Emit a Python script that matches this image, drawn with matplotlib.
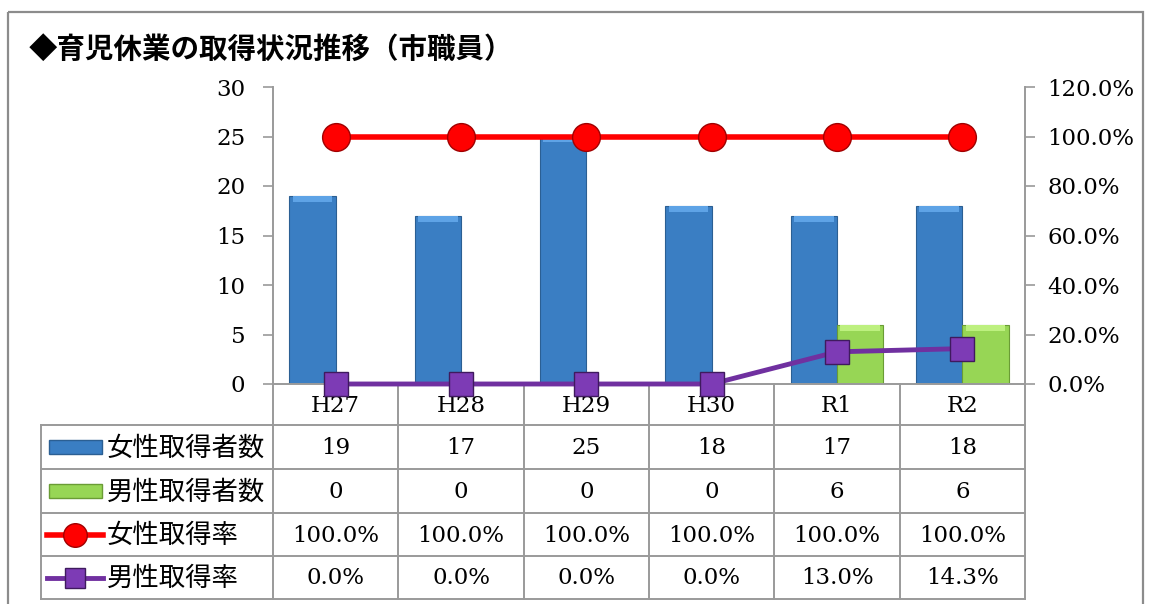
import matplotlib.pyplot as plt
from matplotlib.transforms import blended_transform_factory
from matplotlib.patches import Rectangle
from matplotlib.lines import Line2D

categories = ['H27', 'H28', 'H29', 'H30', 'R1', 'R2']
female_count = [19, 17, 25, 18, 17, 18]
male_count = [0, 0, 0, 0, 6, 6]
female_rate = [1.0, 1.0, 1.0, 1.0, 1.0, 1.0]
male_rate = [0.0, 0.0, 0.0, 0.0, 0.130, 0.143]
series_names = ['女性取得者数', '男性取得者数', '女性取得率', '男性取得率']
left_ticks = [0, 5, 10, 15, 20, 25, 30]
right_ticks = [0.0, 0.2, 0.4, 0.6, 0.8, 1.0, 1.2]
title = '◆育児休業の取得状況推移（市職員）'

W, H = 1149, 604
JP = ['Noto Sans CJK JP', 'DejaVu Sans']
NUM = 'DejaVu Serif'
NUM_SIZE = 16.5
GRID = '#9a9a9a'
BLUE, BLUE_EDGE, BLUE_TOP = '#3a7ec3', '#2b5f93', '#5ea3e6'
GREEN, GREEN_EDGE, GREEN_TOP = '#97d655', '#6a9c35', '#bdf07f'
RED, RED_EDGE = '#ff0000', '#a00000'
PURPLE, PURPLE_EDGE = '#7030a0', '#3f1a5e'

fig = plt.figure(figsize=(W / 100, H / 100), dpi=100)
bg = fig.add_axes([0, 0, 1, 1], zorder=0)
bg.set_xlim(0, W)
bg.set_ylim(H, 0)
bg.axis('off')


def box(l, t, r, b):
    return [l / W, 1 - b / H, (r - l) / W, (b - t) / H]


# outer frame
bg.add_patch(Rectangle((8, 12), 1135, 620, fill=False, ec='#8c8c8c', lw=1.6))
bg.text(29, 50, title, fontsize=20.5, fontweight='bold', family=JP, va='center', ha='left')

ax = fig.add_axes(box(273, 87, 1025, 384), zorder=1)
ax.patch.set_alpha(0)
x = list(range(len(categories)))
bw = 0.37
xf = [i - bw / 2 for i in x]
xm = [i + bw / 2 for i in x]
ax.bar(xf, female_count, width=bw, color=BLUE, edgecolor=BLUE_EDGE, lw=0.8, zorder=2)
ax.bar(xm, male_count, width=bw, color=GREEN, edgecolor=GREEN_EDGE, lw=0.8, zorder=2)
# light bevel on top of each bar
cap = 0.6
ax.bar(xf, [cap if v else 0 for v in female_count], bottom=[v - cap for v in female_count],
       width=bw * 0.86, color=BLUE_TOP, lw=0, zorder=3)
ax.bar(xm, [cap if v else 0 for v in male_count], bottom=[v - cap for v in male_count],
       width=bw * 0.86, color=GREEN_TOP, lw=0, zorder=3)
ax.set_xlim(-0.5, len(categories) - 0.5)
ax.set_ylim(0, 30)
ax.set_yticks(left_ticks)
ax.set_yticklabels([str(t) for t in left_ticks], family=NUM, fontsize=NUM_SIZE)
ax.tick_params(axis='y', direction='out', length=7, width=1.2, color=GRID, pad=13)
ax.tick_params(axis='x', bottom=False, labelbottom=False)
for s in ['top', 'right']:
    ax.spines[s].set_visible(False)
for s in ['left', 'bottom']:
    ax.spines[s].set_color(GRID)
    ax.spines[s].set_linewidth(1.4)

ax2 = ax.twinx()
ax2.set_zorder(2)
ax2.patch.set_alpha(0)
ax2.plot(x, female_rate, color=RED, lw=4, marker='o', ms=20, mfc=RED, mec=RED_EDGE, mew=1, clip_on=False)
ax2.plot(x, male_rate, color=PURPLE, lw=3.5, marker='s', ms=17, mfc='#7d3bb5', mec=PURPLE_EDGE, mew=1, clip_on=False)
ax2.set_ylim(0, 1.2)
ax2.set_yticks(right_ticks)
ax2.set_yticklabels([f'{t * 100:.1f}%' for t in right_ticks], family=NUM, fontsize=NUM_SIZE)
ax2.tick_params(axis='y', direction='out', length=7, width=1.2, color=GRID, pad=9)
for s in ['top', 'left', 'bottom']:
    ax2.spines[s].set_visible(False)
ax2.spines['right'].set_color(GRID)
ax2.spines['right'].set_linewidth(1.4)

# data table below the plot
bt = blended_transform_factory(ax.transData, bg.transData)
rows = [384, 425, 469, 513, 556, 599]
for i in range(len(categories) + 1):
    bg.add_line(Line2D([i - 0.5, i - 0.5], [rows[0], rows[-1]], transform=bt, color=GRID, lw=1.4))
bg.add_line(Line2D([41, 41], [rows[1], rows[-1]], color=GRID, lw=1.4))
for yy in rows[1:]:
    bg.add_line(Line2D([41, 1025], [yy, yy], color=GRID, lw=1.4))

for i, c in enumerate(categories):
    bg.text(i, (rows[0] + rows[1]) / 2 + 1, c, transform=bt, ha='center', va='center', family=NUM, fontsize=NUM_SIZE)

table_rows = [
    [str(v) for v in female_count],
    [str(v) for v in male_count],
    [f'{v * 100:.1f}%' for v in female_rate],
    [f'{v * 100:.1f}%' for v in male_rate],
]
for r, vals in enumerate(table_rows):
    yc = (rows[r + 1] + rows[r + 2]) / 2 + 1
    for i, v in enumerate(vals):
        bg.text(i, yc, v, transform=bt, ha='center', va='center', family=NUM, fontsize=NUM_SIZE)
    bg.text(107, yc, series_names[r], ha='left', va='center', family=JP, fontsize=19)

# legend keys
yc = [(rows[k] + rows[k + 1]) / 2 for k in range(1, 5)]
bg.add_patch(Rectangle((49, yc[0] - 7), 53, 14, fc=BLUE, ec=BLUE_EDGE, lw=1))
bg.add_patch(Rectangle((49, yc[1] - 7), 53, 14, fc=GREEN, ec=GREEN_EDGE, lw=1))
bg.add_line(Line2D([47, 103], [yc[2], yc[2]], color=RED, lw=4))
bg.plot([75], [yc[2]], marker='o', ms=17, mfc=RED, mec=RED_EDGE, mew=1)
bg.add_line(Line2D([47, 103], [yc[3], yc[3]], color=PURPLE, lw=3.5))
bg.plot([75], [yc[3]], marker='s', ms=14, mfc='#7d3bb5', mec=PURPLE_EDGE, mew=1)

fig.savefig('out.png', dpi=100)
